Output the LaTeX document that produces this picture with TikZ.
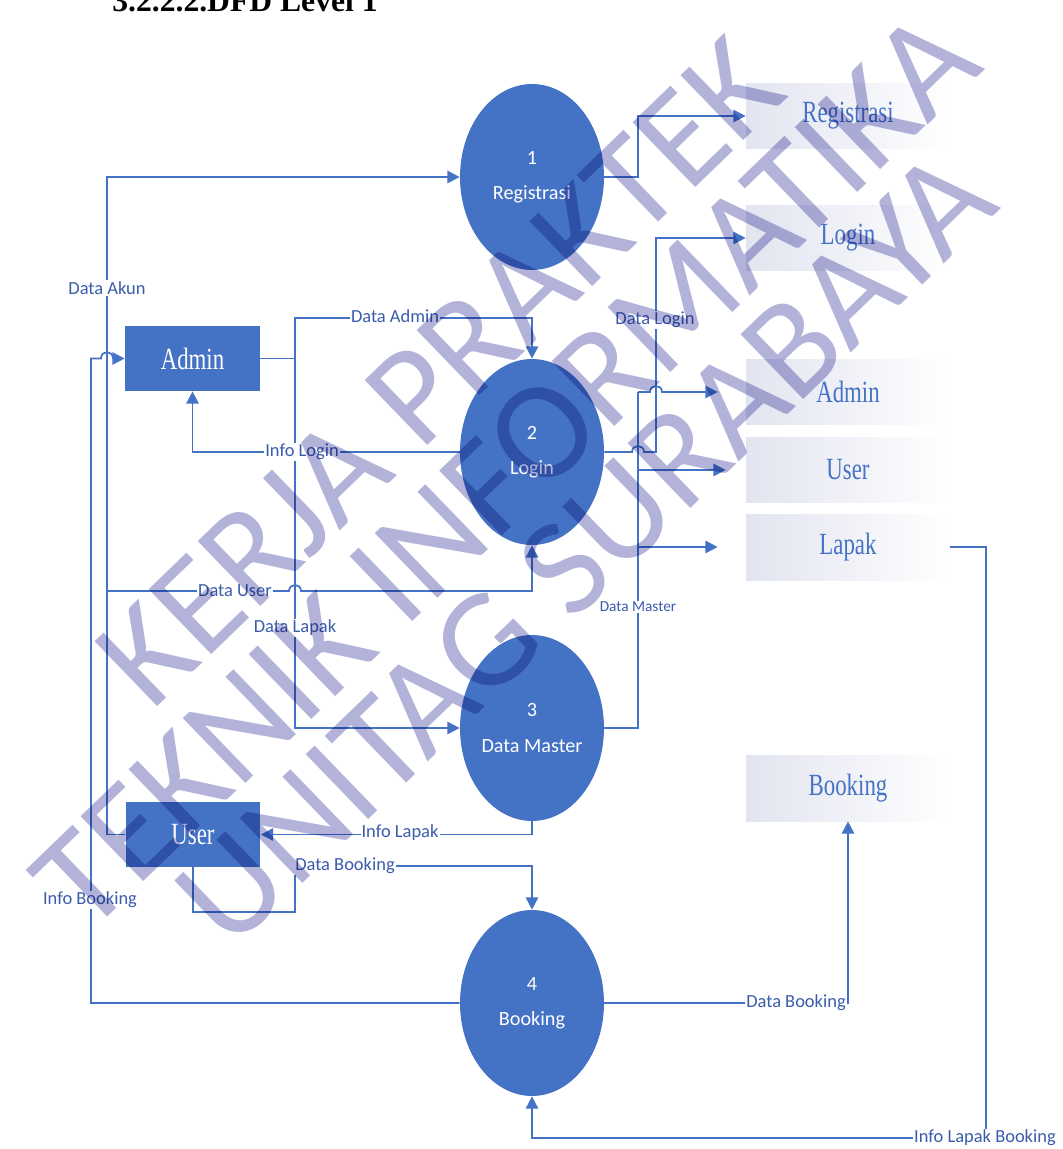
\documentclass[tikz,border=0pt]{standalone}
\usepackage{fontspec}
\usepackage{graphicx}
\setmainfont{Liberation Serif}
\newfontfamily\calfont{Carlito}
\usetikzlibrary{shapes.geometric,arrows.meta}

\definecolor{dfdblue}{HTML}{4472C4}
\definecolor{lbltext}{HTML}{3A5CAB}
\definecolor{storegray}{HTML}{E2E4F0}
\definecolor{wmark}{HTML}{B3B3DA}

\newcommand\stlabel[1]{\scalebox{1}[1.35]{\fontsize{13}{15}\selectfont #1}}

\begin{document}
\begin{tikzpicture}[x=0.02cm, y=-0.02cm, >={Triangle[length=7pt,width=7pt]},
    proc/.style={ellipse, fill=dfdblue, text=white, minimum width=2.88cm, minimum height=3.72cm,
        inner sep=0pt, align=center, font=\calfont\fontsize{11.5}{20}\selectfont},
    ent/.style={rectangle, fill=dfdblue, text=white, minimum width=2.7cm, minimum height=1.3cm, inner sep=0pt},
    store/.style={rectangle, left color=storegray, right color=white, minimum width=4.08cm,
        minimum height=1.32cm, inner sep=0pt, text=dfdblue},
    flow/.style={draw=dfdblue, line width=1pt, ->},
    line/.style={draw=dfdblue, line width=1pt},
    lbl/.style={fill=white, text=lbltext, inner sep=0.6pt, font=\calfont\fontsize{10.5}{12}\selectfont},
    wm/.style={rotate=44, text=wmark, inner sep=0pt, font=\calfont\fontsize{80}{80}\selectfont}]

    \useasboundingbox (0,0) rectangle (1062,1149);
    \clip (0,0) rectangle (1062,1149);

    \node[anchor=base west, inner sep=0pt, font=\bfseries\fontsize{18}{20}\selectfont] (title) at (112,12) {3.2.2.2.DFD Level 1};

    % ===== PROSES =====
    \def\xP{532}
    \node[proc] (proc1) at (\xP,177) {1\\Registrasi};
    \node[proc] (proc2) at (\xP,452) {2\\Login};
    \node[proc] (proc3) at (\xP,728) {3\\Data Master};
    \node[proc] (proc4) at (\xP,1003) {4\\Booking};

    % ===== ENTITAS =====
    \node[ent] (admin) at (192.5,358.5) {\stlabel{Admin}};
    \node[ent] (user) at (193,834.5) {\stlabel{User}};

    % ===== DATA STORE =====
    \def\xS{848}
    \node[store] (sRegis) at (\xS,116) {\stlabel{Registrasi}};
    \node[store] (sLogin) at (\xS,238) {\stlabel{Login}};
    \node[store] (sAdmin) at (\xS,392) {\stlabel{Admin}};
    \node[store] (sUser) at (\xS,470) {\stlabel{User}};
    \node[store] (sLapak) at (\xS,547) {\stlabel{Lapak}};
    \node[store] (sBooking) at (\xS,788) {\stlabel{Booking}};

    % titik belok
    \coordinate (cAkun) at (107,177);
    \coordinate (cUsr) at (107,591);
    \coordinate (cAdm) at (295,318);
    \coordinate (cBook) at (91,358.5);
    \coordinate (cBk1) at (295,912);
    \coordinate (cBk2) at (295,866);
    \coordinate (cILB) at (986,1138);
    \coordinate (cReg) at (638,116);
    \coordinate (cLog) at (656,238);
    \coordinate (cMas) at (638,392);
    \coordinate (cMU) at (638,470);
    \coordinate (cML) at (638,547);

    % ===== ALIRAN KIRI =====
    \draw[flow] (user.west) -| (cAkun) -- (proc1.west);
    \draw[flow] (cUsr) -- (289,591) .. controls (289,583) and (301,583) .. (301,591) -| (proc2.south);
    \draw[flow] (admin.east) -| (cAdm) -| (proc2.north);
    \draw[flow] (cAdm) |- (proc3.west);
    \draw[flow] (proc2.west) -| (admin.south);
    \draw[flow] (proc4.west) -| (cBook) -- (101,358.5) .. controls (101,350) and (113,350) .. (113,358.5) -- (admin.west);
    \draw[flow] (proc3.south) |- (user.east);
    \draw[flow] (user.south) |- (cBk1) -- (cBk2) -| (proc4.north);

    % ===== ALIRAN KANAN =====
    \draw[flow] (proc1.east) -| (cReg) -- (sRegis.west);
    \draw[flow] (proc2.east) -- (632,452) .. controls (632,444) and (644,444) .. (644,452) -| (cLog) -- (sLogin.west);
    \draw[line] (proc3.east) -| (cMas);
    \draw[flow] (cMas) -- (650,392) .. controls (650,384) and (662,384) .. (662,392) -- ([xshift=-0.56cm]sAdmin.west);
    \draw[flow] (cMU) -- ([xshift=-0.4cm]sUser.west);
    \draw[flow] (cML) -- ([xshift=-0.56cm]sLapak.west);
    \draw[flow] (proc4.east) -| (sBooking.south);
    \draw[flow] (sLapak.east) -| (cILB) -| (proc4.south);

    % ===== LABEL =====
    \node[lbl] (lAkun) at (107,288) {Data Akun};
    \node[lbl] (lAdmin) at (395,316) {Data Admin};
    \node[lbl] (lInfoLogin) at (302,452) {Info Login};
    \node[lbl] (lLogin) at (655,320) {Data Login};
    \node[lbl] (lUser) at (235,591) {Data User};
    \node[lbl] (lLapak) at (295,628) {Data Lapak};
    \node[lbl, font=\calfont\fontsize{8.7}{10}\selectfont] (lMaster) at (638,607) {Data Master};
    \node[lbl] (lInfoLapak) at (400,833) {Info Lapak};
    \node[lbl] (lBook1) at (345,866) {Data Booking};
    \node[lbl] (lInfoBook) at (90,900) {Info Booking};
    \node[lbl] (lBook2) at (796,1003) {Data Booking};
    \node[lbl] (lILB) at (985,1138) {Info Lapak Booking};

    % ===== WATERMARK =====
    \begin{scope}[blend mode=multiply]
        \node[wm] (wm1) at (440,372) {KERJA PRAKTEK};
        \node[wm] (wm2) at (505,470) {TEKNIK INFORMATIKA};
        \node[wm] (wm3) at (585,548) {UNITAG SURABAYA};
    \end{scope}
\end{tikzpicture}
\end{document}
